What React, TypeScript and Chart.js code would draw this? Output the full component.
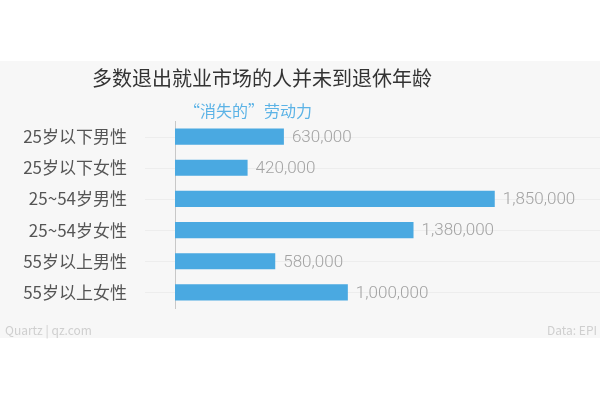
import React, { useEffect, useRef } from "react";
import { Chart, registerables } from "chart.js";

Chart.register(...registerables);

const categories = ["25岁以下男性", "25岁以下女性", "25~54岁男性", "25~54岁女性", "55岁以上男性", "55岁以上女性"];
const values = [630000, 420000, 1850000, 1380000, 580000, 1000000];
const titleText = "多数退出就业市场的人并未到退休年龄";
const subtitleText = "“消失的”劳动力";
const sourceLeft = "Quartz | qz.com";
const sourceRight = "Data: EPI";

const CJK = '"Noto Sans CJK SC", "Noto Sans", sans-serif';

const decorPlugin = {
  id: "decor",
  beforeDraw(chart: any) {
    const ctx = chart.ctx;
    ctx.save();
    ctx.fillStyle = "#ffffff";
    ctx.fillRect(0, 0, chart.width, chart.height);
    ctx.fillStyle = "#f7f7f7";
    ctx.fillRect(0, 61, chart.width, 277);
    ctx.fillStyle = "#333333";
    ctx.font = `20px ${CJK}`;
    ctx.textAlign = "center";
    ctx.textBaseline = "middle";
    ctx.fillText(titleText, 262, 78);
    ctx.fillStyle = "#5cb3e6";
    ctx.font = `16px ${CJK}`;
    ctx.fillText(subtitleText, 248, 111);
    ctx.fillStyle = "#cfcfcf";
    ctx.font = `12px ${CJK}`;
    ctx.textAlign = "left";
    ctx.fillText(sourceLeft, 5, 330);
    ctx.textAlign = "right";
    ctx.fillText(sourceRight, 597, 330);
    ctx.restore();
  },
  beforeDatasetsDraw(chart: any) {
    const ctx = chart.ctx;
    const meta = chart.getDatasetMeta(0);
    ctx.save();
    ctx.strokeStyle = "rgba(0,0,0,0.04)";
    ctx.lineWidth = 1;
    meta.data.forEach((bar: any) => {
      ctx.beginPath();
      ctx.moveTo(145, Math.round(bar.y) + 0.5);
      ctx.lineTo(chart.width, Math.round(bar.y) + 0.5);
      ctx.stroke();
    });
    ctx.restore();
  },
  afterDatasetsDraw(chart: any) {
    const ctx = chart.ctx;
    const meta = chart.getDatasetMeta(0);
    ctx.save();
    ctx.fillStyle = "#a3a3a3";
    ctx.font = '300 17px Roboto, "Noto Sans", sans-serif';
    ctx.textAlign = "left";
    ctx.textBaseline = "middle";
    meta.data.forEach((bar: any, i: number) => {
      ctx.fillText(values[i].toLocaleString("en-US"), bar.x + 8, bar.y + 1);
    });
    ctx.restore();
  },
};

export default function App() {
  const ref = useRef<HTMLCanvasElement>(null);
  useEffect(() => {
    if (!ref.current) return;
    const chart = new Chart(ref.current, {
      type: "bar",
      data: {
        labels: categories,
        datasets: [
          {
            data: values,
            backgroundColor: "#4aa9e1",
            borderWidth: 0,
            barPercentage: 0.52,
            categoryPercentage: 1,
          },
        ],
      },
      options: {
        indexAxis: "y",
        animation: false,
        responsive: false,
        devicePixelRatio: 1,
        layout: { padding: { left: 0, top: 121, right: 5, bottom: 92 } },
        plugins: { legend: { display: false }, tooltip: { enabled: false }, title: { display: false } },
        scales: {
          x: { display: false, min: 0, max: 2430000 },
          y: {
            afterFit(scale: any) {
              scale.width = 175;
            },
            grid: { display: false, drawTicks: false },
            border: { display: true, color: "#c8c8c8", width: 1 },
            ticks: {
              padding: 48,
              color: "#555555",
              font: { family: '"Noto Sans CJK SC", "Noto Sans", sans-serif', size: 17 },
            },
          },
        },
      },
      plugins: [decorPlugin],
    } as any);
    return () => chart.destroy();
  }, []);
  return (
    <div style={{ position: "fixed", left: 0, top: 0, width: 600, height: 400 }}>
      <canvas ref={ref} width={600} height={400} style={{ width: 600, height: 400 }} />
    </div>
  );
}
